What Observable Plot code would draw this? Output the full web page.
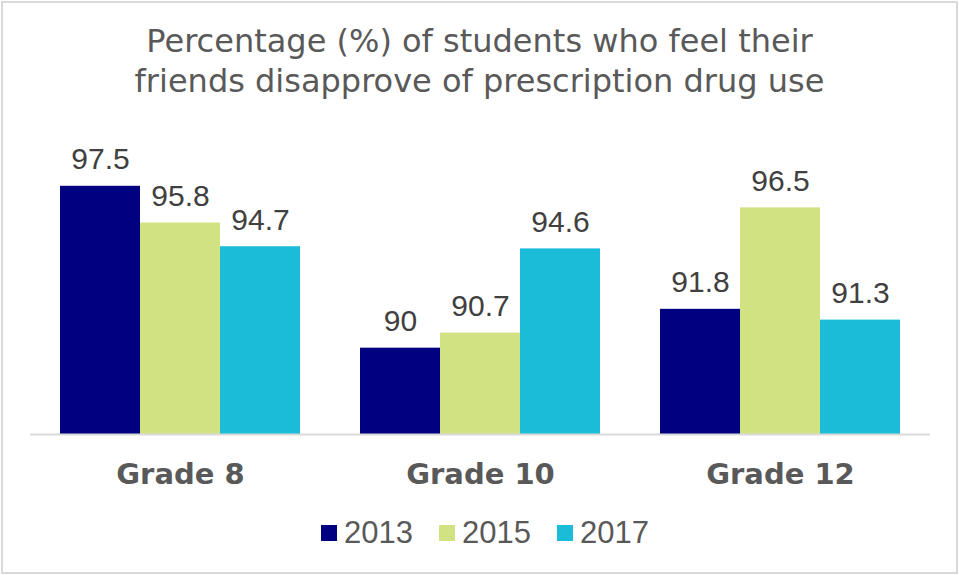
<!DOCTYPE html>
<html><head><meta charset="utf-8">
<script src="https://cdn.jsdelivr.net/npm/d3@7"></script>
<script src="https://cdn.jsdelivr.net/npm/@observablehq/plot@0.6"></script>
<style>
body{margin:0;background:#fff;}
#wrap{position:relative;width:959px;height:575px;overflow:hidden;background:#fff;}
#frame{position:absolute;left:1px;top:1px;width:957px;height:573px;box-sizing:border-box;border:2px solid #d9d9d9;pointer-events:none;}
#title{position:absolute;left:0;top:21px;width:959px;text-align:center;font-family:"DejaVu Sans";font-size:32px;line-height:40px;color:#595959;}
#chart{position:absolute;left:0;top:0;}
#legend{position:absolute;left:321px;top:515px;display:flex;align-items:center;font-family:"Liberation Sans";font-size:31px;line-height:36px;color:#595959;}
.item{display:flex;align-items:center;margin-right:26px;}
.sw{width:16px;height:16px;margin-right:7px;}
</style></head>
<body>
<div id="wrap">
  <div id="title">Percentage (%) of students who feel their<br>friends disapprove of prescription drug use</div>
  <div id="chart"></div>
  <div id="legend"></div>
  <div id="frame"></div>
</div>
<script>
const grades = ["Grade 8", "Grade 10", "Grade 12"];
const years = ["2013", "2015", "2017"];
const v2013 = [97.5, 90, 91.8];
const v2015 = [95.8, 90.7, 96.5];
const v2017 = [94.7, 94.6, 91.3];
const colors = ["#000080", "#d1e283", "#1bbcd8"];
const series = [v2013, v2015, v2017];
const data = grades.flatMap((g, i) => years.map((y, j) => ({grade: g, year: y, value: series[j][i]})));

const chart = Plot.plot({
  width: 959, height: 500,
  marginTop: 175, marginBottom: 66, marginLeft: 30, marginRight: 29,
  style: {fontFamily: "DejaVu Sans", background: "transparent"},
  fx: {domain: grades, paddingInner: 0.2, paddingOuter: 0.1, label: null},
  x: {domain: years, padding: 0, axis: null},
  y: {domain: [86, 98], axis: null},
  color: {domain: years, range: colors},
  marks: [
    Plot.barY(data, {fx: "grade", x: "year", y1: 86, y2: "value", fill: "year"}),
    Plot.ruleY([86], {stroke: "#d9d9d9", strokeWidth: 2, insetLeft: -30, insetRight: -30}),
    Plot.text(data, {fx: "grade", x: "year", y: "value", text: d => String(d.value),
      lineAnchor: "bottom", dy: -17, fontSize: 30, fill: "#404040", fontFamily: "Liberation Sans"}),
    Plot.axisFx({anchor: "bottom", tickSize: 0, tickPadding: 29, fontSize: 29, fontWeight: "bold",
      color: "#595959", fill: "#595959", label: null})
  ]
});
document.getElementById("chart").appendChild(chart);

const legend = document.getElementById("legend");
years.forEach((y, j) => {
  const it = document.createElement("div");
  it.className = "item";
  const sw = document.createElement("div");
  sw.className = "sw";
  sw.style.background = colors[j];
  const tx = document.createElement("span");
  tx.textContent = y;
  it.appendChild(sw); it.appendChild(tx);
  legend.appendChild(it);
});
</script>
</body></html>
